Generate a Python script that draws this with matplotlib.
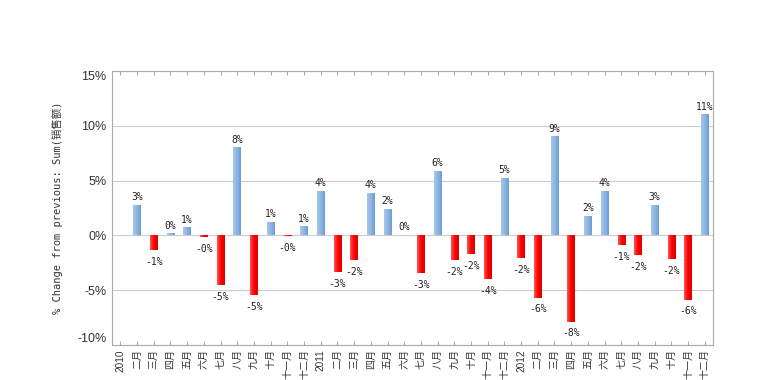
import numpy as np
import matplotlib
matplotlib.use("Agg")
import matplotlib.pyplot as plt
from matplotlib.colors import LinearSegmentedColormap

# month labels (Jan shows year)
months = ["2010", "二月", "三月", "四月", "五月", "六月", "七月", "八月", "九月", "十月", "十一月", "十二月",
          "2011", "二月", "三月", "四月", "五月", "六月", "七月", "八月", "九月", "十月", "十一月", "十二月",
          "2012", "二月", "三月", "四月", "五月", "六月", "七月", "八月", "九月", "十月", "十一月", "十二月"]

# % change from previous month (first month has no previous)
pct_change = [np.nan, 2.73, -1.36, 0.12, 0.64, -0.18, -4.55, 7.94, -5.45, 1.18, -0.06, 0.73,
              4.0, -3.36, -2.27, 3.82, 2.36, 0.0, -3.42, 5.82, -2.27, -1.70, -4.0, 5.18,
              -2.06, -5.70, 9.0, -7.88, 1.73, 4.0, -0.88, -1.79, 2.73, -2.15, -5.88, 11.0]

yticks = [-10, -5, 0, 5, 10, 15]

mono = ["DejaVu Sans Mono", "Noto Sans CJK SC"]
plt.rcParams["font.family"] = ["Liberation Sans", "Noto Sans CJK SC"]

blue_cm = LinearSegmentedColormap.from_list("b", ["#a9c7e9", "#8db5e0", "#6a9ed4"])
red_cm = LinearSegmentedColormap.from_list("r", ["#ff5555", "#ff0000", "#dd0000"])
grad = np.linspace(0, 1, 32).reshape(1, -1)

fig = plt.figure(figsize=(7.57, 3.8), dpi=100)
ax = fig.add_axes([0.148, 0.092, 0.794, 0.721])

x = np.arange(len(months))
vals = np.array(pct_change, dtype=float)
bars = ax.bar(x, np.nan_to_num(vals), width=0.45, color="none", zorder=3)

# gradient fill for each bar
for b, v in zip(bars, np.nan_to_num(vals)):
    if v == 0:
        continue
    x0, y0 = b.get_x(), b.get_y()
    w, h = b.get_width(), b.get_height()
    cm = blue_cm if v > 0 else red_cm
    ax.imshow(grad, cmap=cm, aspect="auto", extent=(x0, x0 + w, y0, y0 + h),
              interpolation="bilinear", zorder=3)

# value labels
for xi, v in zip(x, vals):
    if np.isnan(v):
        continue
    r = int(round(abs(v)))
    if v < 0:
        txt = "-%d%%" % r
        ax.text(xi, v - 0.6, txt, ha="center", va="top", fontsize=7,
                family=mono, color="#222222", zorder=4)
    else:
        txt = "%d%%" % r
        ax.text(xi, v + 0.3, txt, ha="center", va="bottom", fontsize=7,
                family=mono, color="#222222", zorder=4)

ax.set_xlim(-0.5, len(months) - 0.5)
ax.set_ylim(-10, 15)
ax.set_yticks(yticks)
ylabels = ax.set_yticklabels(["%d%%" % t for t in yticks], fontsize=9, color="#333333")
ylabels[0].set_va("bottom")
ylabels[-1].set_va("top")
ax.set_xticks(x)
ax.set_xticklabels(months, rotation=90, fontsize=7.2, color="#333333")

ax.grid(axis="y", color="#cccccc", linewidth=0.8, zorder=0)
for s in ax.spines.values():
    s.set_color("#aaaaaa")
    s.set_linewidth(0.8)
ax.tick_params(axis="x", length=3, color="#aaaaaa", top=True, direction="in", pad=3)
ax.tick_params(axis="y", length=0, pad=4)

ax.set_ylabel("% Change from previous: Sum(销售额)", family=mono, fontsize=7.5,
              color="#333333", labelpad=10)

fig.savefig("out.png", dpi=100)
